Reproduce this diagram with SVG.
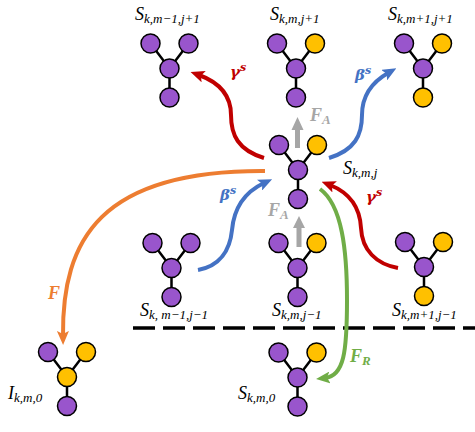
<svg xmlns="http://www.w3.org/2000/svg" width="475" height="432" viewBox="0 0 475 432">
<style>
.bond{stroke:#000;stroke-width:2.5;fill:none}
.p{fill:#9955CC;stroke:#000;stroke-width:1.5}
.y{fill:#FFC000;stroke:#000;stroke-width:1.5}
.lbl{font-family:"Liberation Serif",serif;font-style:italic;font-size:18px;fill:#000}
.sub{font-size:13px}
.arr{fill:none;stroke-width:4}
.ml{font-family:"Liberation Serif",serif;font-style:italic;font-weight:bold;font-size:18px}
.fs{font-size:13px}
.gk{font-family:"DejaVu Serif",serif;font-style:italic;font-weight:bold;font-size:15px}
.sup{font-size:11px}
</style>
<defs>
<marker id="hR" viewBox="0 0 14 12" refX="5" refY="6" markerWidth="14" markerHeight="12" markerUnits="userSpaceOnUse" orient="auto"><path d="M0,0 L14,6 L0,12 L3,6 z" fill="#C00000"/></marker>
<marker id="hB" viewBox="0 0 14 12" refX="5" refY="6" markerWidth="14" markerHeight="12" markerUnits="userSpaceOnUse" orient="auto"><path d="M0,0 L14,6 L0,12 L3,6 z" fill="#4472C4"/></marker>
<marker id="hO" viewBox="0 0 14 12" refX="5" refY="6" markerWidth="14" markerHeight="12" markerUnits="userSpaceOnUse" orient="auto"><path d="M0,0 L14,6 L0,12 L3,6 z" fill="#ED7D31"/></marker>
<marker id="hG" viewBox="0 0 14 12" refX="5" refY="6" markerWidth="14" markerHeight="12" markerUnits="userSpaceOnUse" orient="auto"><path d="M0,0 L14,6 L0,12 L3,6 z" fill="#70AD47"/></marker>
</defs>

<g id="dashed-line"><line x1="133" y1="328" x2="475" y2="328" stroke="#000" stroke-width="3.5" stroke-dasharray="22 8"/></g>

<g id="connectors">
<path class="arr" stroke="#C00000" marker-end="url(#hR)" d="M264,158 C238,150 231,135 231,115 C231,95 218,82 199,75"/>
<path class="arr" stroke="#4472C4" marker-end="url(#hB)" d="M329,158 C355,150 362,135 362,115 C362,95 372,82 388.5,72.7"/>
<path class="arr" stroke="#4472C4" marker-end="url(#hB)" d="M198,270 C220,266 230,250 232,230 C234,208 245,192 264,183"/>
<path class="arr" stroke="#C00000" marker-end="url(#hR)" d="M398,268 C376,264 362,250 361,228 C360,208 350,193 330,185"/>
<path class="arr" stroke="#ED7D31" marker-end="url(#hO)" d="M265,171 C100,170 62,240 63,336"/>
<path class="arr" stroke="#70AD47" marker-end="url(#hG)" d="M320,189 C342,205 347,250 347,300 C347,352 344,376 325,378"/>
<polygon fill="#A6A6A6" points="295,148 300,148 300,130 303.5,130 297.5,117 291.5,130 295,130"/>
<polygon fill="#A6A6A6" points="296.5,247 301.5,247 301.5,228 305,228 299,216 293,228 296.5,228"/>
</g>

<g id="arrow-labels">
<text x="230" y="77" class="gk" fill="#C00000">γ<tspan class="sup" dy="-6">s</tspan></text>
<text x="355" y="80" class="gk" fill="#4472C4">β<tspan class="sup" dy="-6">s</tspan></text>
<text x="220" y="200" class="gk" fill="#4472C4">β<tspan class="sup" dy="-6">s</tspan></text>
<text x="366" y="202" class="gk" fill="#C00000">γ<tspan class="sup" dy="-6">s</tspan></text>
<text x="48" y="299" class="ml" fill="#ED7D31">F</text>
<text x="350" y="362" class="ml" fill="#70AD47">F<tspan class="fs" dy="3">R</tspan></text>
<text x="310" y="121" class="ml" fill="#A6A6A6">F<tspan class="fs" dy="3">A</tspan></text>
<text x="268" y="216" class="ml" fill="#A6A6A6">F<tspan class="fs" dy="3">A</tspan></text>
</g>

<g id="node-top-left" transform="translate(169.5,68.5)">
<path class="bond" d="M-19,-25 L0,0 L19,-25 M0,0 L0,29"/>
<circle class="p" cx="-19" cy="-25" r="9.5"/><circle class="p" cx="19" cy="-25" r="9.5"/><circle class="p" cx="0" cy="0" r="9.5"/><circle class="p" cx="0" cy="29" r="9.5"/>
</g>
<text class="lbl" x="135" y="20">S<tspan class="sub" dy="3">k,m−1,j+1</tspan></text>

<g id="node-top-mid" transform="translate(296,68.5)">
<path class="bond" d="M-19,-25 L0,0 L19,-25 M0,0 L0,29"/>
<circle class="p" cx="-19" cy="-25" r="9.5"/><circle class="y" cx="19" cy="-25" r="9.5"/><circle class="p" cx="0" cy="0" r="9.5"/><circle class="p" cx="0" cy="29" r="9.5"/>
</g>
<text class="lbl" x="270" y="20">S<tspan class="sub" dy="3">k,m,j+1</tspan></text>

<g id="node-top-right" transform="translate(423,68.5)">
<path class="bond" d="M-19,-25 L0,0 L19,-25 M0,0 L0,29"/>
<circle class="p" cx="-19" cy="-25" r="9.5"/><circle class="y" cx="19" cy="-25" r="9.5"/><circle class="p" cx="0" cy="0" r="9.5"/><circle class="y" cx="0" cy="29" r="9.5"/>
</g>
<text class="lbl" x="388" y="20">S<tspan class="sub" dy="3">k,m+1,j+1</tspan></text>

<g id="node-center" transform="translate(298,170)">
<path class="bond" d="M-19,-25 L0,0 L19,-25 M0,0 L0,29"/>
<circle class="p" cx="-19" cy="-25" r="9.5"/><circle class="y" cx="19" cy="-25" r="9.5"/><circle class="p" cx="0" cy="0" r="9.5"/><circle class="p" cx="0" cy="29" r="9.5"/>
</g>
<text class="lbl" x="343" y="174">S<tspan class="sub" dy="3">k,m,j</tspan></text>

<g id="node-bottom-left" transform="translate(171.5,268)">
<path class="bond" d="M-19,-25 L0,0 L19,-25 M0,0 L0,29"/>
<circle class="p" cx="-19" cy="-25" r="9.5"/><circle class="p" cx="19" cy="-25" r="9.5"/><circle class="p" cx="0" cy="0" r="9.5"/><circle class="p" cx="0" cy="29" r="9.5"/>
</g>
<text class="lbl" x="140" y="316">S<tspan class="sub" dy="3">k, m−1,j−1</tspan></text>

<g id="node-bottom-mid" transform="translate(297.5,268)">
<path class="bond" d="M-19,-25 L0,0 L19,-25 M0,0 L0,29"/>
<circle class="p" cx="-19" cy="-25" r="9.5"/><circle class="y" cx="19" cy="-25" r="9.5"/><circle class="p" cx="0" cy="0" r="9.5"/><circle class="p" cx="0" cy="29" r="9.5"/>
</g>
<text class="lbl" x="272" y="316">S<tspan class="sub" dy="3">k,m,j−1</tspan></text>

<g id="node-bottom-right" transform="translate(424,267)">
<path class="bond" d="M-19,-25 L0,0 L19,-25 M0,0 L0,29"/>
<circle class="p" cx="-19" cy="-25" r="9.5"/><circle class="y" cx="19" cy="-25" r="9.5"/><circle class="p" cx="0" cy="0" r="9.5"/><circle class="y" cx="0" cy="29" r="9.5"/>
</g>
<text class="lbl" x="392" y="316">S<tspan class="sub" dy="3">k,m+1,j−1</tspan></text>

<g id="node-I" transform="translate(67,377)">
<path class="bond" d="M-19,-25 L0,0 L19,-25 M0,0 L0,29"/>
<circle class="p" cx="-19" cy="-25" r="9.5"/><circle class="y" cx="19" cy="-25" r="9.5"/><circle class="y" cx="0" cy="0" r="9.5"/><circle class="p" cx="0" cy="29" r="9.5"/>
</g>
<text class="lbl" x="8" y="399">I<tspan class="sub" dy="3">k,m,0</tspan></text>

<g id="node-S0" transform="translate(297.5,377.5)">
<path class="bond" d="M-19,-25 L0,0 L19,-25 M0,0 L0,29"/>
<circle class="p" cx="-19" cy="-25" r="9.5"/><circle class="y" cx="19" cy="-25" r="9.5"/><circle class="p" cx="0" cy="0" r="9.5"/><circle class="p" cx="0" cy="29" r="9.5"/>
</g>
<text class="lbl" x="238" y="399">S<tspan class="sub" dy="3">k,m,0</tspan></text>
</svg>
